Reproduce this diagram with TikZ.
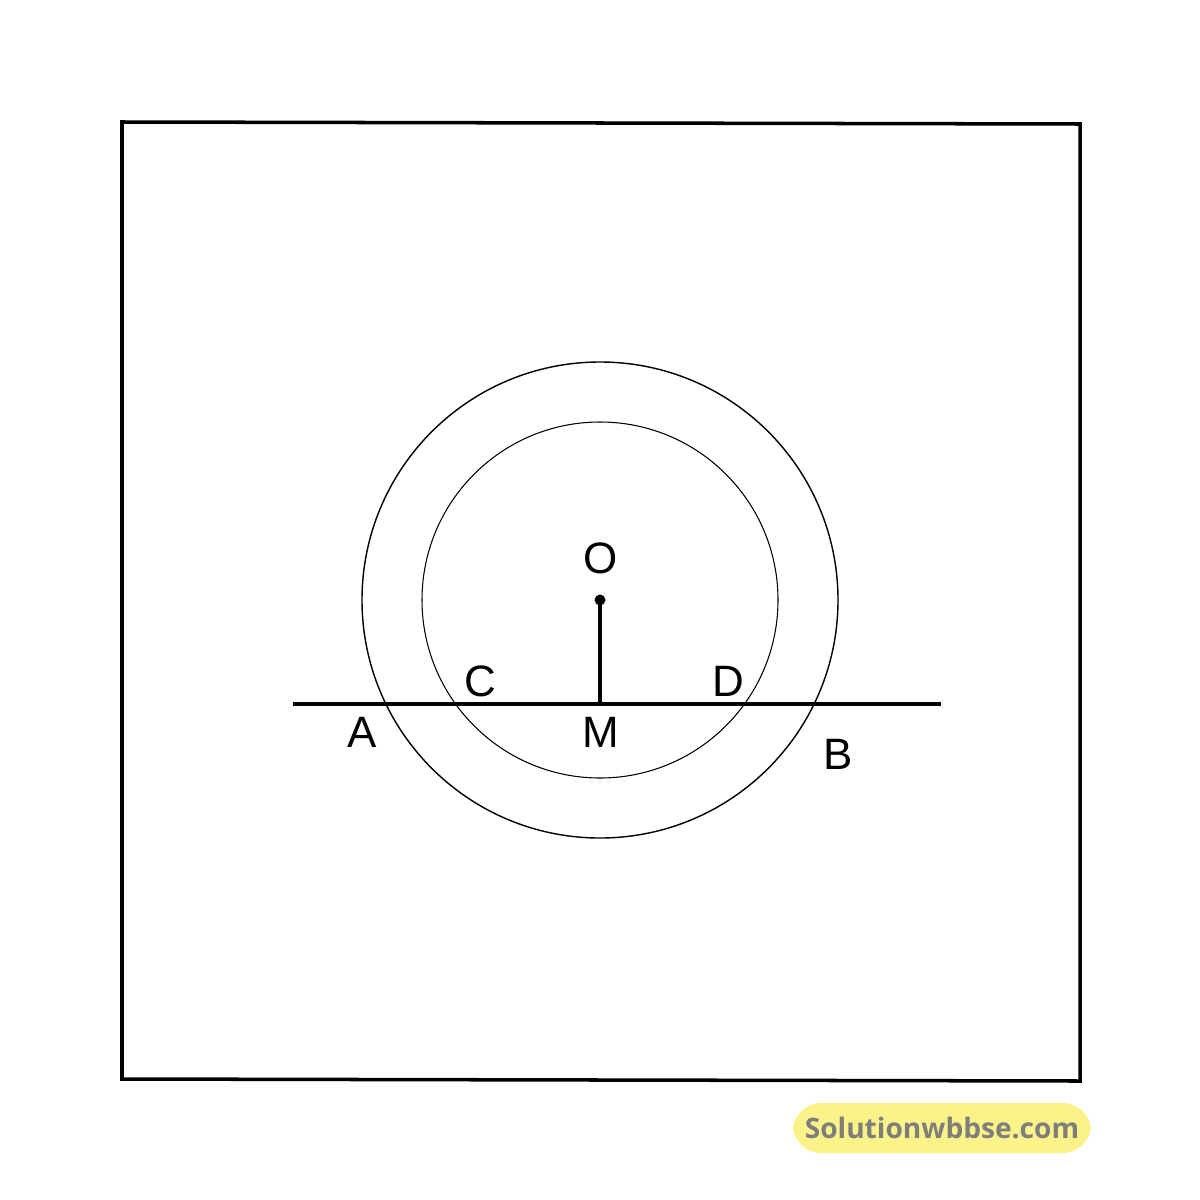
\documentclass[tikz,border=0pt]{standalone}
\usepackage{fontspec}
\setmainfont{Liberation Sans}
\newfontfamily\markfont{Open Sans}
\usepackage{xcolor}
\usetikzlibrary{positioning,calc}
\definecolor{markyellow}{HTML}{FBF38A}
\definecolor{markgrey}{HTML}{7E7E7A}
\begin{document}
\begin{tikzpicture}[
    x=0.01cm, y=-0.01cm,
    font=\fontsize{12.5}{14}\selectfont,
    frame/.style={line width=1pt},
    ring/.style={line width=0.4pt},
    chord/.style={line width=0.9pt},
    ptlabel/.style={inner sep=0pt, anchor=center}
]
    \useasboundingbox (0,0) rectangle (1200,1200);
    \draw[frame] (122,122) -- (1080,124) -- (1080,1081) -- (122,1079) -- cycle;

    \coordinate (O) at (600,600);
    \coordinate (M) at (600,704);
    \coordinate (left) at (293,704);
    \coordinate (right) at (941,704);

    \draw[ring] (O) circle[radius=238];
    \draw[ring, line width=0.3pt] (O) circle[radius=178];
    \draw[chord] (left) -- (right);
    \draw[chord] (O) -- (M);
    \fill (O) circle[radius=5.5];

    \node[ptlabel] (labO) at (601,558) {O};
    \node[ptlabel] (labC) at (480,681) {C};
    \node[ptlabel] (labD) at (728,681) {D};
    \node[ptlabel] (labA) at (362,732) {A};
    \node[ptlabel] (labM) at (601,732) {M};
    \node[ptlabel] (labB) at (838,754) {B};

    \node[fill=markyellow, rounded corners=8pt, inner sep=0pt, minimum width=2.98cm, minimum height=0.5cm,
          text=markgrey, font=\markfont\bfseries\fontsize{8}{10}\selectfont] (mark) at (942,1128) {Solutionwbbse.com};
\end{tikzpicture}
\end{document}
